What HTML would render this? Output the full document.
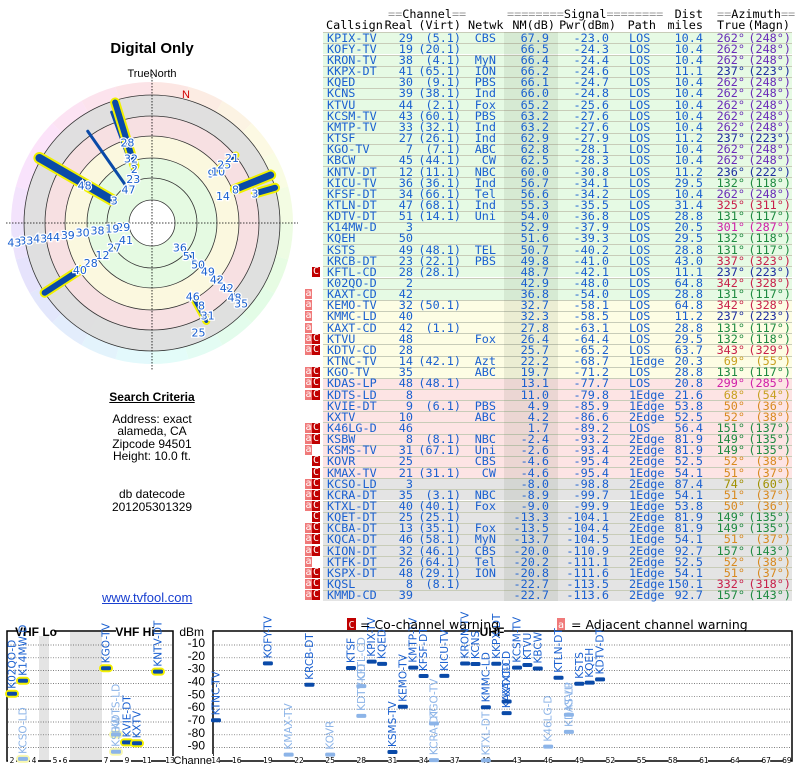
<!DOCTYPE html>
<html><head><meta charset="utf-8">
<style>
html,body{margin:0;padding:0;background:#fff;}
body{width:800px;height:768px;position:relative;overflow:hidden;font-family:"Liberation Sans",sans-serif;}
.t{position:absolute;white-space:pre;font-family:"DejaVu Sans Mono","Liberation Mono",monospace;font-size:11.8px;line-height:11px;color:#1a60d0;}
.r{text-align:right;}
.hdr{color:#000;}
.eq{color:#999;}
.lbl{position:absolute;text-align:center;color:#000;font-size:12px;white-space:nowrap;}
</style></head><body>
<div class="lbl" style="left:52px;width:200px;top:40px;font-size:15px;font-weight:bold;">Digital Only</div>

<svg id="polar" width="310" height="320" style="position:absolute;left:0;top:60px;" viewBox="0 60 310 320"></svg>

<div class="lbl" style="left:52px;width:200px;top:390px;font-weight:bold;text-decoration:underline;">Search Criteria</div>
<div class="lbl" style="left:52px;width:200px;top:413px;line-height:12.3px;">Address: exact<br>alameda, CA<br>Zipcode 94501<br>Height: 10.0 ft.</div>
<div class="lbl" style="left:52px;width:200px;top:488px;line-height:13px;">db datecode<br>201205301329</div>
<a style="position:absolute;left:102px;top:590px;font-size:13px;color:#1a40d0;text-decoration:underline;">www.tvfool.com</a>

<div id="table"></div>

<svg id="bars" width="800" height="160" style="position:absolute;left:0;top:608px;" viewBox="0 608 800 160"></svg>

<script>
// ---------- TABLE DATA ----------
const callsigns=["KPIX-TV","KOFY-TV","KRON-TV","KKPX-DT","KQED","KCNS","KTVU","KCSM-TV","KMTP-TV","KTSF","KGO-TV","KBCW","KNTV-DT","KICU-TV","KFSF-DT","KTLN-DT","KDTV-DT","K14MW-D","KQEH","KSTS","KRCB-DT","KFTL-CD","K02QO-D","KAXT-CD","KEMO-TV","KMMC-LD","KAXT-CD","KTVU","KDTV-CD","KTNC-TV","KGO-TV","KDAS-LP","KDTS-LD","KVIE-DT","KXTV","K46LG-D","KSBW","KSMS-TV","KOVR","KMAX-TV","KCSO-LD","KCRA-DT","KTXL-DT","KQET-DT","KCBA-DT","KQCA-DT","KION-DT","KTFK-DT","KSPX-DT","KQSL","KMMD-CD"];
const realCh=[29,19,38,41,30,39,44,43,33,27,7,45,12,36,34,47,51,3,50,49,23,28,2,42,32,40,42,48,28,14,35,48,8,9,10,46,8,31,25,21,3,35,40,25,13,46,32,26,48,8,39];
const virtCh=["(5.1)","(20.1)","(4.1)","(65.1)","(9.1)","(38.1)","(2.1)","(60.1)","(32.1)","(26.1)","(7.1)","(44.1)","(11.1)","(36.1)","(66.1)","(68.1)","(14.1)","","","(48.1)","(22.1)","(28.1)","","","(50.1)","","(1.1)","","","(42.1)","","(48.1)","","(6.1)","","","(8.1)","(67.1)","","(31.1)","","(3.1)","(40.1)","(25.1)","(35.1)","(58.1)","(46.1)","(64.1)","(29.1)","(8.1)",""];
const netwk=["CBS","","MyN","ION","PBS","Ind","Fox","PBS","Ind","Ind","ABC","CW","NBC","Ind","Tel","Ind","Uni","","","TEL","PBS","","","","","","","Fox","","Azt","ABC","","","PBS","ABC","","NBC","Uni","CBS","CW","","NBC","Fox","","Fox","MyN","CBS","Tel","ION","",""];
const nmDb=[67.9,66.5,66.4,66.2,66.1,66.0,65.2,63.2,63.2,62.9,62.8,62.5,60.0,56.7,56.6,55.3,54.0,52.9,51.6,50.7,49.8,48.7,42.9,36.8,32.7,32.3,27.8,26.4,25.7,22.2,19.7,13.1,11.0,4.9,4.2,1.7,-2.4,-2.6,-4.6,-4.6,-8.0,-8.9,-9.0,-13.3,-13.5,-13.7,-20.0,-20.2,-20.8,-22.7,-22.7];
const pwrDbm=[-23.0,-24.3,-24.4,-24.6,-24.7,-24.8,-25.6,-27.6,-27.6,-27.9,-28.1,-28.3,-30.8,-34.1,-34.2,-35.5,-36.8,-37.9,-39.3,-40.2,-41.0,-42.1,-48.0,-54.0,-58.1,-58.5,-63.1,-64.4,-65.2,-68.7,-71.2,-77.7,-79.8,-85.9,-86.6,-89.2,-93.2,-93.4,-95.4,-95.4,-98.8,-99.7,-99.9,-104.1,-104.4,-104.5,-110.9,-111.1,-111.6,-113.5,-113.6];
const pathType=["LOS","LOS","LOS","LOS","LOS","LOS","LOS","LOS","LOS","LOS","LOS","LOS","LOS","LOS","LOS","LOS","LOS","LOS","LOS","LOS","LOS","LOS","LOS","LOS","LOS","LOS","LOS","LOS","LOS","1Edge","LOS","LOS","1Edge","1Edge","2Edge","LOS","2Edge","2Edge","2Edge","1Edge","2Edge","1Edge","1Edge","2Edge","2Edge","1Edge","2Edge","2Edge","1Edge","2Edge","2Edge"];
const distMi=["10.4","10.4","10.4","11.1","10.4","10.4","10.4","10.4","10.4","11.2","10.4","10.4","11.2","29.5","10.4","31.4","28.8","20.5","29.5","28.8","43.0","11.1","64.8","28.8","64.8","11.2","28.8","29.5","63.7","20.3","28.8","20.8","21.6","53.8","52.5","56.4","81.9","81.9","52.5","54.1","87.4","54.1","53.8","81.9","81.9","54.1","92.7","52.5","54.1","150.1","92.7"];
const azTrue=[262,262,262,237,262,262,262,262,262,237,262,262,236,132,262,325,131,301,132,131,337,237,342,131,342,237,131,132,343,69,131,299,68,50,52,151,149,149,52,51,74,51,50,149,149,51,157,52,51,332,157];
const azMagn=[248,248,248,223,248,248,248,248,248,223,248,248,222,118,248,311,117,287,118,117,323,223,328,117,328,223,117,118,329,55,117,285,54,36,38,137,135,135,38,37,60,37,36,135,135,37,143,38,37,318,143];
const warns=["","","","","","","","","","","","","","","","","","","","","","C","","a","a","a","a","aC","aC","","aC","aC","aC","","","aC","aC","a","C","C","aC","aC","aC","C","aC","aC","aC","a","aC","aC","aC"];

function azColor(a){
  if(a>=255&&a<=265) return "#6a2cb8";
  if(a>=230&&a<=240) return "#1e2ea0";
  if(a>=125&&a<=160) return "#1e8a40";
  if(a>=320&&a<=345) return "#c8204a";
  if(a>=295&&a<=305) return "#d020a8";
  if(a>=65&&a<=70) return "#c8a020";
  if(a>=72&&a<=76) return "#a09000";
  if(a>=45&&a<=55) return "#d88a20";
  return "#444";
}
const tbl=document.getElementById('table');
const Y0=32.2, RH=11.15;
function addCell(txt,x,y,cls,right,color,name){
  const d=document.createElement('div');
  
  
  d.className='t '+(cls||'');
  if(right){d.style.right=(800-x)+'px';}else{d.style.left=x+'px';}
  d.style.top=y+'px';
  if(color) d.style.color=color;
  d.innerHTML=txt;
  tbl.appendChild(d);
  return d;
}
addCell('<span class="eq">==</span>Channel<span class="eq">==</span>',388,9,'hdr',false,null,'channel-group-header');
addCell('<span class="eq">========</span>Signal<span class="eq">========</span>',507,9,'hdr',false,null,'signal-group-header');
addCell('Dist',703,9,'hdr',true,null,'dist-header');
addCell('<span class="eq">==</span>Azimuth<span class="eq">==</span>',717,9,'hdr',false,null,'azimuth-group-header');
addCell('Callsign',326,20,'hdr',false,null,'callsign-header');
addCell('Real',413,20,'hdr',true,null,'real-header');
addCell('(Virt)',461,20,'hdr',true,null,'virt-header');
addCell('Netwk',468,20,'hdr',false,null,'netwk-header');
addCell('NM(dB)',555,20,'hdr',true,null,'nm-header');
addCell('Pwr(dBm)',616,20,'hdr',true,null,'pwr-header');
addCell('Path',656,20,'hdr',true,null,'path-header');
addCell('miles',703,20,'hdr',true,null,'miles-header');
addCell('True',717,20,'hdr',false,null,'true-header');
addCell('(Magn)',790,20,'hdr',true,null,'magn-header');

for(let i=0;i<callsigns.length;i++){
  const y=Y0+i*RH;
  let bg = i<24?'#e6fae4': i<31?'#fdfde4': i<40?'#fde4e4':'#e4e4e4';
  const b=document.createElement('div');
  
  
  b.style.cssText=`position:absolute;left:323px;width:469px;top:${y}px;height:${RH}px;background:${bg};border-top:1px solid #c8ccb8;box-sizing:border-box;`;
  tbl.appendChild(b);
}
const sh=document.createElement('div');


sh.style.cssText=`position:absolute;left:504px;width:54px;top:${Y0}px;height:${RH*51}px;background:rgba(60,80,40,0.09);`;
tbl.appendChild(sh);

for(let i=0;i<callsigns.length;i++){
  const y=Y0+i*RH+0.5;
  addCell(callsigns[i],327,y,'',false,null,'callsign-cell');
  addCell(String(realCh[i]),413,y,'',true,null,'real-channel-cell');
  if(virtCh[i]) addCell(virtCh[i],461,y,'',true,null,'virtual-channel-cell');
  if(netwk[i]) addCell(netwk[i],496,y,'',true,null,'network-cell');
  addCell(nmDb[i].toFixed(1),549,y,'',true,null,'nm-cell');
  addCell(pwrDbm[i].toFixed(1),609,y,'',true,null,'power-cell');
  addCell(pathType[i],629,y,'',false,null,'path-cell');
  addCell(distMi[i],703,y,'',true,null,'distance-cell');
  const c=azColor(azTrue[i]);
  addCell(azTrue[i]+'°',745,y,'',true,c,'true-azimuth-cell');
  addCell('('+azMagn[i]+'°)',791,y,'',true,c,'magnetic-azimuth-cell');
  const w=warns[i];
  if(w.includes('a')){
    const a=document.createElement('div');
    
    
    a.style.cssText=`position:absolute;left:305px;top:${y}px;width:7px;height:10px;background:#f07a7a;color:#fff;font:10px "DejaVu Sans Mono",monospace;line-height:10px;text-align:center;`;
    a.textContent='a';tbl.appendChild(a);
  }
  if(w.includes('C')){
    const a=document.createElement('div');
    
    
    a.style.cssText=`position:absolute;left:312px;top:${y}px;width:8px;height:10px;background:#c00000;color:#fff;font:10px "DejaVu Sans Mono",monospace;line-height:10px;text-align:center;`;
    a.textContent='C';tbl.appendChild(a);
  }
}

// ---------- POLAR DATA ----------
const polarLabels=["29","19","38","30","39","44","43","33","43","41","27","12","28","40","3","48","47","23","2","32","28","14","8","3","9","10","25","21","36","51","50","49","42","42","48","35","46","8","31","25"];
const polarAz=[262,262,262,262,262,262,262,262,262,237,237,237,237,237,301,299,325,337,342,342,343,69,68,74,50,52,51,51,131,131,132,131,131,131,132,132,151,149,149,157];
const polarR=[29,40,55,70,85,100,113,127,139,31,45,59,73,86,44,77,41,48,57,68,84,76,90,107,77,84,93,103,37,50,62,74,86,99,111,120,84,96,108,119];
const lineAz=[237,300,325,340,343,68,74,51,131,151];
const lineR0=[86,46,44,52,60,90,108,80,40,88];
const lineR1=[128,130,112,118,126,128,128,108,122,112];
const lineW=[6,8,3,3,6,7,6,3,2,4];
const lineHi=[1,1,0,0,1,1,1,1,0,1];

const NS='http://www.w3.org/2000/svg';
function mk(parent,tag,attrs){const e=document.createElementNS(NS,tag);for(const k in attrs)e.setAttribute(k,attrs[k]);parent.appendChild(e);return e;}
const P=document.getElementById('polar');
const CX=152, CY=223;
function pxy(az,r){const a=az*Math.PI/180;return [CX+r*Math.sin(a),CY-r*Math.cos(a)];}
for(let a=0;a<360;a+=15){
  const [x1,y1]=pxy(a,141),[x2,y2]=pxy(a+15,141),[x4,y4]=pxy(a,0);
  const w=mk(P,'path',{d:`M${x4},${y4} L${x1},${y1} A141,141 0 0 1 ${x2},${y2} Z`,fill:`hsl(${a+7},80%,94%)`});
  
  
}
const bands=[[128,'rgba(222,222,222,0.95)'],[107,'rgba(253,224,226,0.8)'],[87,'rgba(252,252,222,0.85)'],[65,'rgba(226,250,226,0.9)'],[23,'#ffffff']];
bands.forEach(b=>{const c=mk(P,'circle',{cx:CX,cy:CY,r:b[0],fill:b[1]});});
[23,45,65,87,107,128].forEach(r=>{const c=mk(P,'circle',{cx:CX,cy:CY,r:r,fill:'none',stroke:'#333','stroke-width':0.8});});
let ax=mk(P,'line',{x1:CX,y1:74,x2:CX,y2:370,stroke:'#000','stroke-width':0.8,'stroke-dasharray':'1.5,1.5'});


ax=mk(P,'line',{x1:6,y1:CY,x2:298,y2:CY,stroke:'#000','stroke-width':0.8,'stroke-dasharray':'1.5,1.5'});


let t=mk(P,'text',{x:CX,y:77,'text-anchor':'middle','font-size':11,'font-family':'Liberation Sans, sans-serif'});t.textContent='TrueNorth';


t=mk(P,'text',{x:186,y:98,'text-anchor':'middle','font-size':11,fill:'#d00000','font-family':'Liberation Sans, sans-serif'});t.textContent='N';


for(let i=0;i<lineAz.length;i++){
  const [x1,y1]=pxy(lineAz[i],lineR0[i]),[x2,y2]=pxy(lineAz[i],lineR1[i]);
  if(lineHi[i]){const h=mk(P,'line',{x1,y1,x2,y2,stroke:'#f0f000','stroke-width':lineW[i]+4,'stroke-linecap':'round'});}
  const l=mk(P,'line',{x1,y1,x2,y2,stroke:'#0a4aa8','stroke-width':lineW[i],'stroke-linecap':'round'});
  
  
}
for(let i=0;i<polarLabels.length;i++){
  const [x,y]=pxy(polarAz[i],polarR[i]);
  const tx=mk(P,'text',{x:x,y:y+4,'text-anchor':'middle','font-size':11,fill:'#1a60d0',stroke:'#fff','stroke-width':2.5,'paint-order':'stroke','font-family':'DejaVu Sans, sans-serif'});
  tx.textContent=polarLabels[i];
  
  
}

// ---------- BAR CHART DATA ----------
const barLabels=["K02QO-D","K14MW-D","KCSO-LD","KGO-TV","KDTS-LD","KSBW","KVIE-DT","KXTV","KNTV-DT","KTNC-TV","KOFY-TV","KMAX-TV","KRCB-DT","KOVR","KTSF","KDTV-CD","KFTL-CD","KPIX-TV","KQED","KSMS-TV","KEMO-TV","KMTP-TV","KFSF-DT","KCRA-DT","KGO-TV","KICU-TV","KRON-TV","KCNS","KMMC-LD","KTXL-DT","KKPX-DT","KAXT-CD","KAXT-CD","KCSM-TV","KTVU","KBCW","K46LG-D","KTLN-DT","KDAS-LP","KTVU","KSTS","KQEH","KDTV-DT"];
const barChannels=[2,3,3,7,8,8,9,10,12,14,19,21,23,25,27,28,28,29,30,31,32,33,34,35,35,36,38,39,40,40,41,42,42,43,44,45,46,47,48,48,49,50,51];
const barPower=[-48.0,-37.9,-98.8,-28.1,-79.8,-93.2,-85.9,-86.6,-30.8,-68.7,-24.3,-95.4,-41.0,-95.4,-27.9,-65.2,-42.1,-23.0,-24.7,-93.4,-58.1,-27.6,-34.2,-99.7,-71.2,-34.1,-24.4,-24.8,-58.5,-99.9,-24.6,-63.1,-54.0,-27.6,-25.6,-28.3,-89.2,-35.5,-77.7,-64.4,-40.2,-39.3,-36.8];
const barFaded=[0,0,1,0,1,1,0,0,0,0,0,1,0,1,0,1,1,0,0,0,0,0,0,1,1,0,0,0,0,1,0,0,0,0,0,0,1,0,1,1,0,0,0];
const dbmTicks=[-10,-20,-30,-40,-50,-60,-70,-80,-90];
const vhfTickCh=[2,4,5,6,7,9,11,13];
const uhfTickCh=[14,16,19,22,25,28,31,34,37,40,43,46,49,52,55,58,61,64,67,69];

const B=document.getElementById('bars');
const vhfX={2:12,3:23,4:34,5:55,6:65,7:106,8:116,9:127,10:137,11:147,12:158,13:170};
function xCh(ch){return ch<=13?vhfX[ch]:216+(ch-14)*10.38;}
function yDb(v){return 645+(-10-v)*1.283;}
mk(B,'rect',{x:39,y:632,width:10,height:129,fill:'#e4e4e4'});
mk(B,'rect',{x:70,y:632,width:32,height:129,fill:'#e4e4e4'});
dbmTicks.forEach(v=>{
  [[8,172],[214,791]].forEach(r=>{
    const g=mk(B,'line',{x1:r[0],x2:r[1],y1:yDb(v),y2:yDb(v),stroke:'#555','stroke-width':0.7,'stroke-dasharray':'1,1.5'});
    
    
  });
  const tx=mk(B,'text',{x:205,y:yDb(v)+2,'text-anchor':'end','font-size':12,'font-family':'Liberation Sans, sans-serif'});
  tx.textContent=v;
  
  
});
let bx=mk(B,'rect',{x:7,y:631,width:166,height:130,fill:'none',stroke:'#000','stroke-width':1.5});


bx=mk(B,'rect',{x:213,y:631,width:579,height:130,fill:'none',stroke:'#000','stroke-width':1.5});


t=mk(B,'text',{x:204,y:636,'text-anchor':'end','font-size':12,'font-family':'Liberation Sans, sans-serif'});t.textContent='dBm';


[[18,36,'VHF Lo'],[116,38,'VHF Hi'],[480,24,'UHF']].forEach(b=>{
  mk(B,'rect',{x:b[0],y:626,width:b[1],height:10,fill:'#fff'});
  const tx=mk(B,'text',{x:b[0]+b[1]/2,y:636,'text-anchor':'middle','font-size':12,'font-weight':'bold','font-family':'Liberation Sans, sans-serif'});
  tx.textContent=b[2];
  
  
});
mk(B,'rect',{x:174,y:754,width:39,height:12,fill:'#fff'});
t=mk(B,'text',{x:194,y:764,'text-anchor':'middle','font-size':11,'font-family':'Liberation Sans, sans-serif'});t.textContent='Channel';


vhfTickCh.concat(uhfTickCh).forEach(ch=>{
  const x=xCh(ch);
  mk(B,'rect',{x:x-4,y:756,width:8,height:9,fill:'#fff'});
  const tx=mk(B,'text',{x:x,y:763,'text-anchor':'middle','font-size':7.5,'font-family':'DejaVu Sans, sans-serif'});
  tx.textContent=ch;
  
  
});
for(let i=0;i<barLabels.length;i++){
  const x=xCh(barChannels[i]), y=yDb(barPower[i]);
  const f=barFaded[i];
  if(barChannels[i]<=13){
    const h=mk(B,'rect',{x:x-7,y:y-4,width:14,height:8,rx:4,fill:f?'#f8f8b0':'#f4f000'});
    
    
  }
  const m=mk(B,'rect',{x:x-5,y:y-2,width:10,height:4,rx:1.5,fill:f?'#8cb4e8':'#0a4aa8'});
  
  
  const tx=mk(B,'text',{x:0,y:0,transform:`translate(${x+3.5},${y-5}) rotate(-90)`,'font-size':10.5,fill:f?'#8cb4e8':'#1a60d0','font-family':'DejaVu Sans, sans-serif'});
  tx.textContent=barLabels[i];
  
  
}
let lg=mk(B,'rect',{x:347,y:618,width:9,height:12,fill:'#c00000'});


t=mk(B,'text',{x:351.5,y:628,'text-anchor':'middle','font-size':10,fill:'#fff','font-family':'DejaVu Sans Mono, monospace'});t.textContent='C';
t=mk(B,'text',{x:360,y:629,'font-size':12.5,'font-family':'DejaVu Sans, sans-serif'});t.textContent='= Co-channel warning';


lg=mk(B,'rect',{x:557,y:618,width:8,height:12,fill:'#f07a7a'});


t=mk(B,'text',{x:561,y:628,'text-anchor':'middle','font-size':10,fill:'#fff','font-family':'DejaVu Sans Mono, monospace'});t.textContent='a';
t=mk(B,'text',{x:571,y:629,'font-size':12.5,'font-family':'DejaVu Sans, sans-serif'});t.textContent='= Adjacent channel warning';


</script>
</body></html>
